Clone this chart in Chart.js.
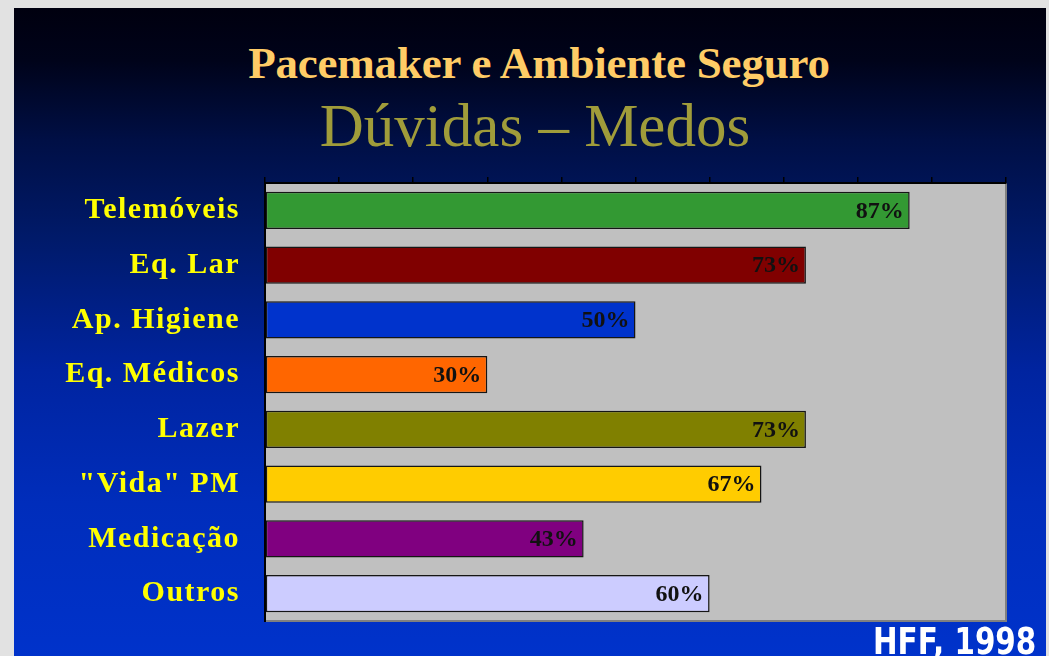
<!DOCTYPE html>
<html lang="pt">
<head>
  <meta charset="UTF-8">
  <title>Pacemaker e Ambiente Seguro</title>
  <script src="https://cdn.jsdelivr.net/npm/chart.js"></script>
  <style>
    html, body { margin: 0; padding: 0; }
    body { width: 1049px; height: 656px; overflow: hidden; background: #e2e2e2; position: relative; }
    .slide {
      position: absolute; left: 14px; top: 8px; width: 1032px; height: 660px;
      background: linear-gradient(to bottom, #00000f 0%, #00031a 8%, #000f45 20%, #001a6a 35%, #0024a0 55%, #002dbb 75%, #0033cc 100%);
    }
    .title {
      position: absolute; width: 700px; text-align: center;
      font-family: 'Liberation Serif', serif; line-height: 1; white-space: nowrap;
    }
    #t1 { left: 189px; top: 41px; font-size: 45px; font-weight: bold; color: #ffcc66; letter-spacing: -0.2px; }
    #t2 { left: 185px; top: 95px; font-size: 61px; color: #a09c3a; }
    #src {
      position: absolute; left: 873px; top: 623px; color: #fff;
      font: bold 30px 'DejaVu Sans', sans-serif; line-height: 1;
      transform: scale(0.98, 1.25); transform-origin: left top; white-space: nowrap;
    }
    canvas { position: absolute; left: 0; top: 0; }
  </style>
</head>
<body>
  <div class="slide"></div>
  <div class="title" id="t1">Pacemaker e Ambiente Seguro</div>
  <div class="title" id="t2">Dúvidas – Medos</div>
  <canvas id="bars" width="1049" height="656"></canvas>
  <div id="src">HFF, 1998</div>

  <script>
    const categories = ['Telemóveis', 'Eq. Lar', 'Ap. Higiene', 'Eq. Médicos', 'Lazer', '"Vida" PM', 'Medicação', 'Outros'];
    const values = [87, 73, 50, 30, 73, 67, 43, 60];
    const xTicks = { min: 0, max: 100, step: 10 };
    const barColors = ['#339933', '#800000', '#0033cc', '#ff6600', '#808000', '#ffcc00', '#800080', '#ccccff'];

    const plotBg = {
      id: 'plotBg',
      beforeDraw(chart) {
        const { ctx, chartArea: a } = chart;
        ctx.save();
        ctx.fillStyle = '#c0c0c0';
        ctx.fillRect(a.left, a.top, a.right - a.left, a.bottom - a.top);
        ctx.strokeStyle = '#808080';
        ctx.lineWidth = 2;
        ctx.beginPath();
        ctx.moveTo(a.right, a.top);
        ctx.lineTo(a.right, a.bottom);
        ctx.lineTo(a.left, a.bottom);
        ctx.stroke();
        ctx.restore();
        ctx.letterSpacing = '1.5px';   // spaced category labels
      },
      beforeDatasetsDraw(chart) { chart.ctx.letterSpacing = '0px'; }
    };

    const valueLabels = {
      id: 'valueLabels',
      afterDatasetsDraw(chart) {
        const { ctx } = chart;
        const meta = chart.getDatasetMeta(0);
        ctx.save();
        ctx.font = "bold 24px 'Liberation Serif'";
        ctx.fillStyle = '#111';
        ctx.textAlign = 'right';
        ctx.textBaseline = 'middle';
        meta.data.forEach((bar, i) => {
          ctx.fillText(values[i] + '%', bar.x - 6, bar.y + 1);
        });
        ctx.restore();
      }
    };

    new Chart(document.getElementById('bars'), {
      type: 'bar',
      data: {
        labels: categories,
        datasets: [{
          data: values,
          backgroundColor: barColors,
          borderColor: '#151515',
          borderWidth: 1.5,
          borderSkipped: false,
          barPercentage: 0.68,
          categoryPercentage: 1
        }]
      },
      options: {
        indexAxis: 'y',
        responsive: false,
        animation: false,
        layout: { padding: { top: 177, right: 43, bottom: 35, left: 0 } },
        scales: {
          x: {
            position: 'top',
            min: xTicks.min, max: xTicks.max,
            ticks: { display: false, stepSize: xTicks.step },
            grid: { drawOnChartArea: false, drawTicks: true, tickLength: 6, color: '#000', lineWidth: 1.5 },
            border: { color: '#000', width: 2 }
          },
          y: {
            ticks: {
              color: '#ffff00',
              font: { family: 'Liberation Serif', size: 30, weight: 'bold' },
              padding: 25
            },
            grid: { drawOnChartArea: false, drawTicks: false },
            border: { color: '#000', width: 2 },
            afterFit(scale) {
              scale.width = 265;
              scale.paddingTop = 0;
              scale.paddingBottom = 0;
            }
          }
        },
        plugins: { legend: { display: false }, tooltip: { enabled: false } }
      },
      plugins: [plotBg, valueLabels]
    });
  </script>
</body>
</html>
